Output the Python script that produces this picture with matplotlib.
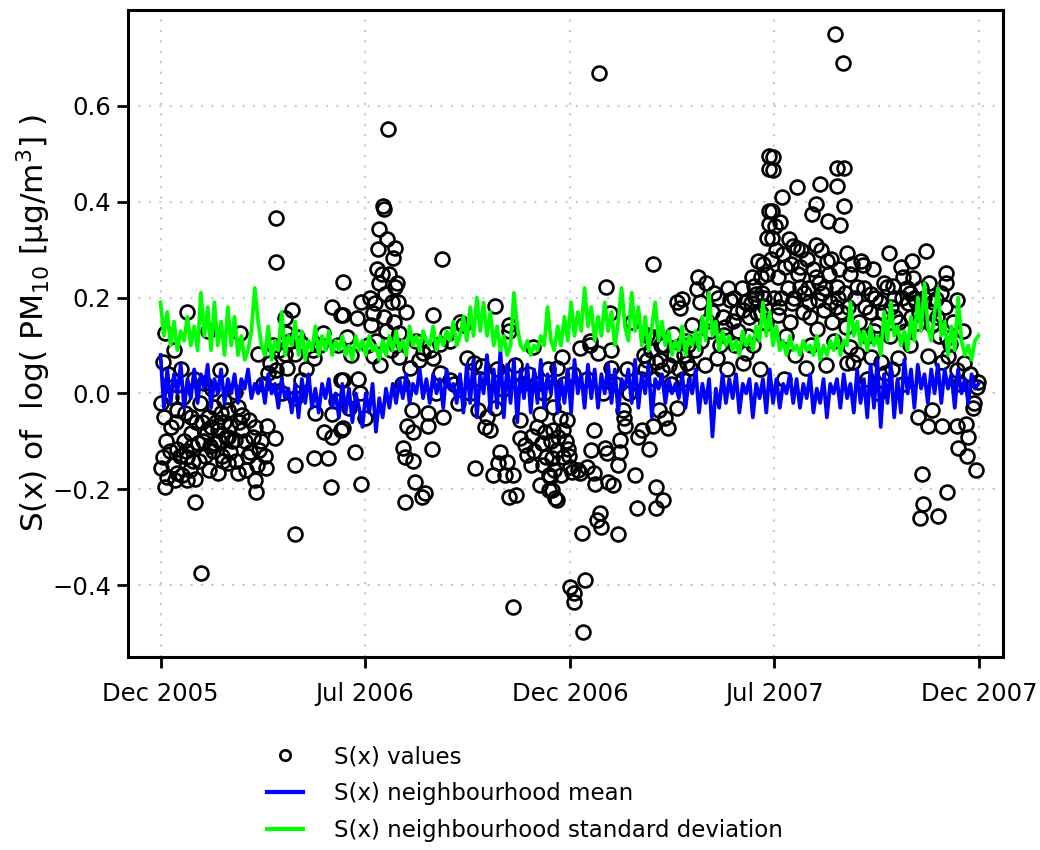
import numpy as np
import matplotlib
matplotlib.use('Agg')
from matplotlib import pyplot as plt
from matplotlib.lines import Line2D
import matplotlib.dates as mdates

plt.rcParams['font.family'] = ['DejaVu Sans']

# day 0 = 31 Dec 2005
start = np.datetime64('2005-12-31')

# S(x) values as (day, value)
sx_first_half_2006 = [
    (0, -0.02), (2, 0.065), (4, 0.127), (0, -0.156), (4, -0.196), (6, -0.175), (2, -0.133),
    (9, -0.07), (9, -0.008), (12, 0.09), (15, -0.035), (15, -0.115), (15, -0.167), (20, -0.008),
    (24, 0.169), (24, -0.133), (24, -0.181), (27, -0.05), (27, -0.083), (31, -0.179), (31, -0.227),
    (33, -0.104), (35, -0.02), (36, -0.375), (39, 0.021), (42, 0.131), (42, -0.05), (45, -0.07),
    (46, 0.01), (48, -0.029), (48, -0.104), (51, -0.077), (51, -0.167), (53, 0.048), (57, -0.015),
    (60, -0.035), (60, -0.092), (60, -0.146), (7, 0.04), (18, 0.05), (21, -0.1), (30, 0.03),
    (37, -0.06), (40, -0.13), (44, -0.11), (55, -0.13), (57, -0.06), (29, -0.14), (13, -0.18),
    (3, -0.05), (5, -0.1), (8, -0.12), (11, -0.15), (14, -0.06), (17, -0.13), (19, -0.17),
    (22, -0.04), (23, -0.12), (26, -0.16), (28, -0.11), (32, -0.06), (34, -0.14), (38, -0.1),
    (41, -0.08), (43, -0.16), (47, -0.12), (49, -0.06), (52, -0.1), (54, -0.04), (56, -0.14),
    (58, -0.09),
    (62, -0.123), (62, -0.067), (66, 0.002), (66, -0.098), (69, -0.029), (69, -0.167), (71, 0.127),
    (73, -0.077), (73, -0.046), (76, -0.16), (79, -0.056), (80, -0.123), (84, -0.07), (84, -0.181),
    (85, -0.206), (87, 0.083), (88, -0.119), (94, -0.156), (95, -0.067), (96, 0.042), (98, 0.063),
    (102, 0.033), (102, -0.094), (103, 0.048), (103, 0.367), (103, 0.275), (111, 0.158), (111, 0.083),
    (112, 0.127), (113, 0.054), (117, 0.175), (120, 0.083), (120, -0.01), (120, -0.15), (120, -0.294),
    (91, 0.02), (100, 0.1), (106, 0.09), (108, 0.0), (115, 0.11),
    (64, -0.1), (67, -0.14), (70, -0.06), (75, -0.1), (78, -0.13), (82, -0.09), (86, -0.15),
    (90, -0.1), (93, -0.13),
    (122, 0.117), (125, 0.106), (125, 0.027), (136, 0.09), (137, 0.073), (137, -0.135), (138, -0.04),
    (145, 0.127), (146, -0.081), (149, -0.135), (152, -0.196), (153, 0.181), (153, -0.042),
    (153, -0.092), (156, -0.015), (161, 0.163), (161, 0.027), (161, -0.077), (163, 0.233),
    (163, 0.163), (163, 0.027), (163, -0.073), (166, 0.117), (173, -0.123), (175, 0.158), (178, 0.0),
    (179, 0.19), (179, -0.19), (130, 0.05), (142, 0.1), (158, 0.1), (170, 0.08), (176, 0.03),
    (168, -0.03),
]

sx_second_half_2006 = [
    (182, -0.052), (188, 0.142), (189, 0.167), (189, 0.079), (191, 0.188), (194, 0.302), (195, 0.344),
    (195, 0.231), (197, 0.25), (198, 0.392), (199, 0.385), (200, 0.208), (202, 0.323), (203, 0.552),
    (204, 0.25), (206, 0.19), (207, 0.283), (209, 0.304), (209, 0.221), (211, 0.231), (213, 0.127),
    (213, 0.075), (216, -0.113), (218, -0.133), (218, -0.227), (219, 0.169), (220, -0.067),
    (222, 0.052), (224, -0.035), (225, -0.081), (225, -0.14), (227, -0.185), (233, -0.217),
    (234, 0.085), (236, -0.208), (238, -0.04), (238, -0.067), (242, -0.115), (243, 0.163),
    (243, 0.073), (249, 0.104), (249, 0.042), (251, 0.281), (252, -0.05), (255, 0.125), (258, 0.11),
    (258, 0.027), (185, 0.1), (192, 0.11), (196, 0.06), (201, 0.13), (205, 0.09), (210, 0.1),
    (215, 0.02), (230, 0.07), (240, 0.09), (246, 0.0), (228, 0.11),
    (187, 0.2), (193, 0.26), (199, 0.16), (208, 0.15), (212, 0.19),
    (267, 0.148), (270, 0.142), (273, 0.073), (279, 0.063), (280, -0.156), (283, -0.035), (287, 0.058),
    (289, -0.07), (291, -0.05), (294, -0.077), (296, -0.171), (298, 0.183), (301, -0.146),
    (303, -0.123), (307, -0.171), (309, -0.144), (311, 0.131), (311, 0.142), (311, -0.217),
    (314, -0.171), (314, -0.446), (317, -0.213), (320, -0.056), (320, -0.094), (325, -0.108),
    (327, -0.129), (262, 0.02), (276, 0.0), (285, 0.03), (300, 0.05), (305, 0.01), (316, 0.06),
    (322, 0.02), (328, 0.04), (265, -0.02), (298, -0.03),
    (331, -0.088), (332, 0.096), (338, -0.042), (338, -0.192), (340, -0.104), (344, -0.133),
    (346, -0.171), (346, -0.202), (350, -0.077), (350, -0.029), (353, -0.119), (353, 0.052),
    (353, -0.223), (349, -0.135), (349, -0.202), (347, -0.175), (352, -0.219), (356, -0.052),
    (358, 0.075), (359, -0.077), (359, -0.133), (362, -0.056), (363, -0.115), (335, 0.02),
    (342, 0.0), (345, 0.05), (360, 0.02),
    (330, -0.15), (333, -0.12), (336, -0.07), (341, -0.15), (343, -0.08), (348, -0.1),
    (351, -0.16), (354, -0.09), (357, -0.17), (361, -0.1), (364, -0.13),
]

sx_first_half_2007 = [
    (365, -0.154), (365, -0.404), (367, -0.165), (369, -0.417), (369, -0.435), (372, -0.16),
    (374, 0.094), (374, -0.167), (376, -0.292), (377, -0.498), (378, -0.39), (380, -0.154),
    (383, 0.11), (383, 0.1), (384, -0.119), (386, -0.077), (386, -0.167), (387, -0.188),
    (389, -0.265), (390, 0.085), (391, 0.669), (392, -0.25), (393, -0.279), (396, -0.113),
    (397, 0.221), (398, -0.125), (399, -0.185), (368, 0.04), (380, 0.03), (394, 0.0),
    (401, 0.167), (402, 0.09), (402, 0.054), (403, -0.192), (408, -0.15), (408, -0.294),
    (410, -0.098), (410, -0.123), (412, -0.035), (413, -0.052), (414, -0.067), (420, 0.148),
    (423, -0.171), (425, -0.24), (426, -0.092), (429, -0.077), (434, 0.121), (434, 0.069),
    (435, -0.115), (436, 0.117), (439, 0.269), (439, 0.117), (439, -0.067), (442, 0.065),
    (442, -0.196), (442, -0.24), (444, -0.035), (447, 0.048), (448, -0.223), (450, -0.052),
    (452, -0.073), (457, 0.125), (460, 0.19), (460, -0.031), (463, 0.179), (465, 0.198), (469, 0.063),
    (405, 0.02), (416, 0.05), (418, 0.0), (428, 0.03), (431, 0.08), (446, 0.1), (455, 0.02),
    (466, 0.03), (468, 0.11),
    (432, 0.05), (437, 0.09), (441, 0.03), (445, 0.07), (449, 0.1), (453, 0.06), (458, 0.08),
    (462, 0.05), (467, 0.08), (470, 0.1),
    (472, 0.052), (474, 0.142), (478, 0.217), (479, 0.242), (487, 0.152), (493, 0.21), (496, 0.073),
    (502, 0.121), (503, 0.138), (508, 0.194), (510, 0.152), (519, 0.173), (519, 0.063), (522, 0.085),
    (526, 0.188), (527, 0.242), (529, 0.225), (531, 0.208), (532, 0.167), (533, 0.277), (535, 0.242),
    (535, 0.167), (537, 0.271), (541, 0.25), (542, 0.496), (542, 0.469), (542, 0.381), (542, 0.354),
    (541, 0.325), (540, 0.146), (476, 0.09), (482, 0.11), (485, 0.06), (490, 0.13), (499, 0.1),
    (505, 0.05), (512, 0.1), (515, 0.13), (524, 0.12), (528, 0.1), (538, 0.2), (534, 0.05),
    (481, 0.19), (486, 0.23), (492, 0.17), (497, 0.2), (501, 0.16), (506, 0.22), (511, 0.2),
    (514, 0.17), (518, 0.22), (521, 0.19), (525, 0.16), (530, 0.2), (536, 0.21), (539, 0.18),
]

sx_second_half_2007 = [
    (545, 0.381), (545, 0.325), (546, 0.494), (546, 0.467), (548, 0.35), (550, 0.242), (550, 0.163),
    (552, 0.358), (554, 0.41), (557, 0.263), (560, 0.323), (563, 0.188), (564, 0.308), (567, 0.431),
    (567, 0.304), (570, 0.263), (570, 0.221), (573, 0.169), (575, 0.052), (581, 0.375), (584, 0.396),
    (584, 0.31), (584, 0.242), (585, 0.135), (586, 0.194), (588, 0.437), (591, 0.173), (594, 0.277),
    (595, 0.36), (601, 0.75), (603, 0.471), (603, 0.433), (603, 0.221), (604, 0.2), (606, 0.352),
    (608, 0.69), (609, 0.471), (609, 0.39), (611, 0.138), (612, 0.292), (612, 0.063), (615, 0.25),
    (615, 0.096), (617, 0.065), (621, 0.221), (621, 0.083), (553, 0.2), (558, 0.12), (561, 0.15),
    (577, 0.22), (579, 0.16), (590, 0.21), (597, 0.19), (599, 0.15), (556, 0.03), (566, 0.08),
    (580, 0.1), (593, 0.06), (600, 0.11), (607, 0.17),
    (544, 0.28), (547, 0.2), (549, 0.3), (551, 0.18), (555, 0.29), (559, 0.22), (562, 0.27),
    (565, 0.2), (568, 0.25), (571, 0.3), (574, 0.21), (576, 0.28), (578, 0.19), (582, 0.26),
    (587, 0.23), (589, 0.3), (592, 0.22), (596, 0.25), (598, 0.28), (602, 0.18), (605, 0.26),
    (610, 0.21), (613, 0.18), (616, 0.27), (619, 0.2),
    (624, 0.277), (626, 0.267), (633, 0.208), (633, 0.075), (635, 0.26), (639, 0.142), (642, 0.065),
    (646, 0.042), (648, 0.221), (649, 0.294), (653, 0.225), (657, 0.073), (660, 0.263), (662, 0.242),
    (666, 0.188), (668, 0.21), (668, 0.1), (670, 0.277), (671, 0.24), (675, 0.146), (675, -0.05),
    (677, -0.26), (679, -0.169), (680, -0.231), (682, 0.298), (684, 0.079), (684, -0.067),
    (688, 0.142), (688, -0.035), (691, 0.198), (693, -0.256), (697, 0.065), (697, -0.067),
    (700, 0.252), (700, 0.231), (628, 0.18), (630, 0.12), (637, 0.2), (644, 0.17), (650, 0.12),
    (655, 0.16), (664, 0.13), (673, 0.19), (678, 0.22), (686, 0.17), (694, 0.12), (630, 0.03),
    (640, 0.0), (652, 0.05), (662, 0.02),
    (623, 0.15), (627, 0.22), (632, 0.17), (636, 0.13), (641, 0.19), (645, 0.23), (651, 0.18),
    (654, 0.2), (658, 0.15), (661, 0.2), (665, 0.22), (669, 0.16), (672, 0.2), (676, 0.17),
    (681, 0.2), (685, 0.23), (689, 0.19), (692, 0.16), (696, 0.21), (699, 0.18),
    (701, 0.115), (701, -0.206), (702, 0.079), (704, 0.104), (710, 0.194), (710, 0.048),
    (710, -0.067), (711, -0.113), (716, 0.063), (718, -0.063), (719, -0.131), (720, -0.092),
    (724, -0.031), (725, -0.019), (727, -0.16), (728, 0.013), (729, 0.023), (706, 0.15),
    (713, 0.02), (722, 0.04), (715, 0.13),
]

# neighbourhood mean and sd, one value every 3 days (days 0, 3, ..., 729)
line_step = 3
nb_mean = [
    0.08, -0.03, 0.05, -0.02, 0.04, 0.00, 0.06, -0.03, 0.03, -0.01,
    0.05, -0.02, 0.04, 0.01, 0.06, -0.03, 0.03, 0.00, 0.05, -0.02,
    0.03, 0.00, 0.04, -0.02, 0.03, 0.01, 0.05, -0.01, 0.02, 0.00,
    0.03, -0.02, 0.04, 0.00, 0.02, -0.03, 0.03, -0.01, 0.01, -0.04,
    0.02, -0.05, 0.03, -0.02, 0.04, -0.03, 0.01, -0.04, 0.02, -0.01,
    0.03, -0.03, 0.00, -0.05, 0.02, -0.04, 0.01, -0.06, 0.00, -0.03,
    -0.07, 0.00, -0.04, 0.02, -0.08, -0.01, -0.05, 0.01, -0.03, 0.02,
    -0.02, 0.03, -0.01, 0.04, -0.02, 0.02, 0.00, 0.05, -0.01, 0.03,
    -0.02, 0.04, 0.00, 0.03, -0.03, 0.05, 0.01, 0.02, -0.02, 0.04,
    -0.04, 0.06, -0.02, 0.07, -0.05, 0.04, 0.00, 0.08, -0.04, 0.05,
    -0.03, 0.09, -0.05, 0.06, -0.02, 0.07, -0.06, 0.05, -0.01, 0.06,
    -0.04, 0.05, -0.02, 0.07, -0.03, 0.04, 0.00, 0.06, -0.04, 0.03,
    -0.02, 0.05, -0.04, 0.07, 0.00, 0.04, -0.03, 0.06, -0.01, 0.05,
    -0.03, 0.04, 0.00, 0.06, -0.02, 0.05, -0.04, 0.03, 0.01, 0.05,
    -0.02, 0.07, -0.03, 0.04, 0.00, 0.06, -0.05, 0.03, 0.01, 0.04,
    -0.02, 0.03, 0.00, 0.02, -0.01, 0.04, -0.03, 0.03, 0.00, 0.05,
    -0.04, 0.02, -0.02, 0.03, -0.09, 0.01, -0.03, 0.04, -0.02, 0.03,
    -0.01, 0.04, -0.04, 0.02, 0.00, 0.03, -0.05, 0.02, -0.01, 0.03,
    -0.04, 0.05, -0.02, 0.03, -0.03, 0.02, 0.00, 0.04, -0.02, 0.03,
    -0.03, 0.02, -0.01, 0.04, -0.04, 0.01, -0.02, 0.03, -0.05, 0.02,
    0.00, 0.03, -0.03, 0.04, -0.01, 0.02, -0.04, 0.05, -0.02, 0.03,
    -0.05, 0.06, -0.03, 0.07, -0.07, 0.04, -0.02, 0.06, -0.05, 0.03,
    -0.04, 0.07, 0.00, 0.05, -0.03, 0.06, 0.01, 0.04, -0.02, 0.05,
    0.00, 0.06, -0.02, 0.05, 0.01, 0.04, -0.03, 0.05, 0.00, 0.03,
    -0.02, 0.04, 0.01, 0.02,
]
nb_sd = [
    0.19, 0.12, 0.17, 0.10, 0.15, 0.09, 0.13, 0.11, 0.16, 0.10,
    0.14, 0.09, 0.21, 0.12, 0.18, 0.09, 0.19, 0.10, 0.15, 0.08,
    0.18, 0.10, 0.16, 0.08, 0.12, 0.07, 0.09, 0.13, 0.22, 0.15,
    0.10, 0.08, 0.14, 0.07, 0.11, 0.09, 0.17, 0.08, 0.12, 0.10,
    0.15, 0.08, 0.13, 0.07, 0.11, 0.09, 0.14, 0.08, 0.12, 0.09,
    0.13, 0.08, 0.11, 0.09, 0.12, 0.08, 0.10, 0.07, 0.12, 0.09,
    0.11, 0.08, 0.12, 0.09, 0.10, 0.07, 0.11, 0.08, 0.12, 0.09,
    0.13, 0.09, 0.11, 0.08, 0.14, 0.10, 0.12, 0.09, 0.13, 0.11,
    0.10, 0.14, 0.09, 0.12, 0.10, 0.13, 0.11, 0.15, 0.10, 0.12,
    0.16, 0.11, 0.18, 0.12, 0.20, 0.13, 0.19, 0.12, 0.17, 0.10,
    0.14, 0.09, 0.12, 0.08, 0.10, 0.21, 0.14, 0.10, 0.09, 0.11,
    0.08, 0.10, 0.09, 0.12, 0.10, 0.18, 0.11, 0.09, 0.14, 0.10,
    0.16, 0.11, 0.19, 0.12, 0.17, 0.13, 0.22, 0.14, 0.18, 0.11,
    0.16, 0.12, 0.19, 0.13, 0.17, 0.10, 0.15, 0.22, 0.14, 0.11,
    0.21, 0.13, 0.18, 0.10, 0.16, 0.09, 0.14, 0.19, 0.11, 0.15,
    0.10, 0.13, 0.08, 0.11, 0.09, 0.14, 0.08, 0.12, 0.10, 0.13,
    0.09, 0.16, 0.11, 0.21, 0.12, 0.15, 0.09, 0.13, 0.10, 0.12,
    0.09, 0.11, 0.08, 0.13, 0.10, 0.12, 0.09, 0.14, 0.11, 0.19,
    0.12, 0.17, 0.10, 0.14, 0.09, 0.11, 0.08, 0.12, 0.09, 0.10,
    0.08, 0.11, 0.09, 0.10, 0.08, 0.12, 0.07, 0.10, 0.08, 0.11,
    0.09, 0.12, 0.08, 0.11, 0.10, 0.19, 0.12, 0.15, 0.10, 0.13,
    0.09, 0.14, 0.10, 0.12, 0.08, 0.17, 0.11, 0.19, 0.12, 0.14,
    0.10, 0.13, 0.09, 0.16, 0.11, 0.20, 0.13, 0.23, 0.14, 0.11,
    0.17, 0.22, 0.12, 0.15, 0.08, 0.14, 0.09, 0.20, 0.11, 0.08,
    0.10, 0.07, 0.11, 0.12,
]

tick_days = [0, 182, 365, 547, 730]
ytick_vals = [-0.4, -0.2, 0.0, 0.2, 0.4, 0.6]
ytick_labels = ['\u22120.4', '\u22120.2', '0.0', '0.2', '0.4', '0.6']
legend_labels = ['S(x) values', 'S(x) neighbourhood mean',
                 'S(x) neighbourhood standard deviation']


def to_dates(days):
    return start + np.asarray(days, dtype='timedelta64[D]')


points = sx_first_half_2006 + sx_second_half_2006 + sx_first_half_2007 + sx_second_half_2007
pt_days = [p[0] for p in points]
pt_vals = [p[1] for p in points]
line_days = np.arange(len(nb_mean)) * line_step
assert len(nb_mean) == len(nb_sd)

fig = plt.figure(figsize=(10.4, 8.5), dpi=100)
ax = fig.add_axes([128 / 1040, 1 - 657 / 850, 875 / 1040, 647 / 850])

ax.plot(to_dates(pt_days), pt_vals, ls='none', marker='o', ms=10, mfc='none',
        mec='black', mew=1.9, zorder=2)
ax.plot(to_dates(line_days), nb_mean, color='#0000ff', lw=2.7, zorder=3)
ax.plot(to_dates(line_days), nb_sd, color='#00ff00', lw=2.7, zorder=3)

ax.set_xlim(to_dates([-29])[0], to_dates([751])[0])
ax.set_ylim(-0.55, 0.80)
ax.set_xticks(to_dates(tick_days))
ax.xaxis.set_major_formatter(mdates.DateFormatter('%b %Y'))
ax.set_yticks(ytick_vals)
ax.set_yticklabels(ytick_labels)

ax.grid(True, color='#c8c8c8', lw=1.5, ls=(0, (1, 4)), zorder=0)
ax.set_axisbelow(True)
for sp in ax.spines.values():
    sp.set_linewidth(2.2)
ax.tick_params(direction='out', length=8, width=2, labelsize=17.5, pad=4)
ax.tick_params(axis='x', pad=10)

ax.set_ylabel('S(x) of  log( PM$_{10}$ [\u00b5g/m$^3$] )', fontsize=22.5)
ax.yaxis.set_label_coords(-0.086, 0.516)

handles = [
    Line2D([], [], ls='none', marker='o', ms=7.5, mfc='none', mec='black', mew=1.9),
    Line2D([], [], color='#0000ff', lw=3),
    Line2D([], [], color='#00ff00', lw=3),
]
fig.legend(handles, legend_labels, loc='upper left', bbox_to_anchor=(267 / 1040, 1 - 745 / 850),
           frameon=False, fontsize=16.5, borderpad=0, borderaxespad=0, handlelength=1.57,
           handletextpad=1.35, labelspacing=0.62)

plt.savefig('out.png', dpi=100)
